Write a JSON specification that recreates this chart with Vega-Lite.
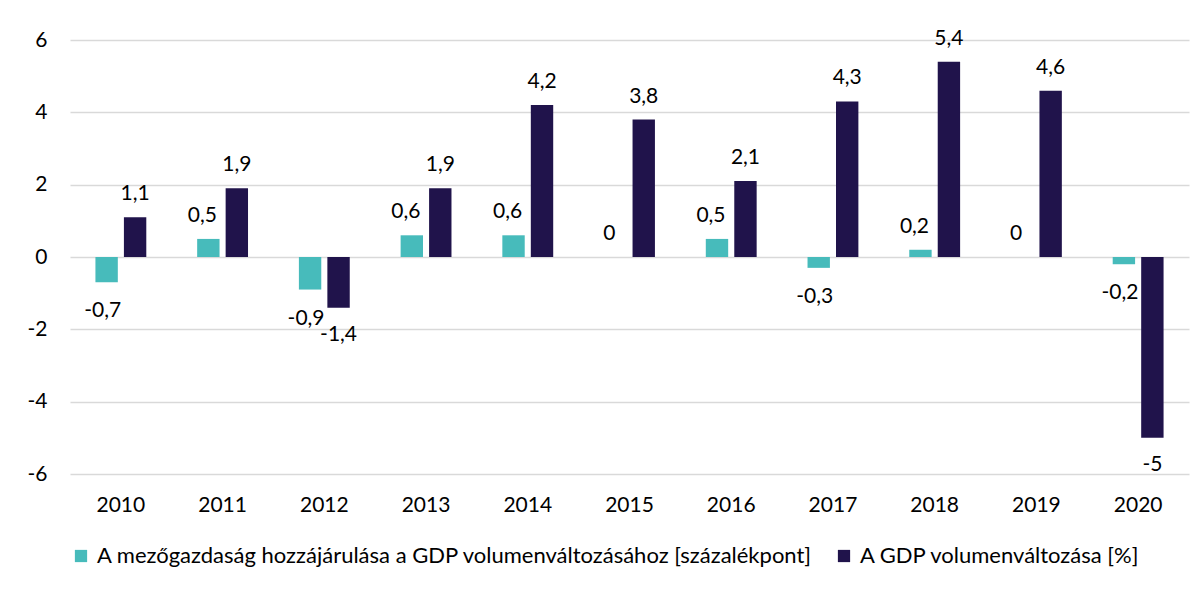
{
  "$schema": "https://vega.github.io/schema/vega-lite/v6.json",
  "width": 1119,
  "height": 434,
  "autosize": {"type": "none"},
  "padding": {"left": 70, "top": 40, "right": 14, "bottom": 116},
  "background": "white",
  "config": {
    "locale": {"number": {"decimal": ",", "thousands": " ", "grouping": [3], "currency": ["", " Ft"], "minus": "-"}},
    "font": "Lato",
    "view": {"stroke": null},
    "text": {"font": "Lato", "fontSize": 21, "color": "#000000"}
  },
  "data": {
    "values": [
      {"year": "2010", "series": "A mezőgazdaság hozzájárulása a GDP volumenváltozásához [százalékpont]", "value": -0.7},
      {"year": "2010", "series": "A GDP volumenváltozása [%]", "value": 1.1},
      {"year": "2011", "series": "A mezőgazdaság hozzájárulása a GDP volumenváltozásához [százalékpont]", "value": 0.5},
      {"year": "2011", "series": "A GDP volumenváltozása [%]", "value": 1.9},
      {"year": "2012", "series": "A mezőgazdaság hozzájárulása a GDP volumenváltozásához [százalékpont]", "value": -0.9},
      {"year": "2012", "series": "A GDP volumenváltozása [%]", "value": -1.4},
      {"year": "2013", "series": "A mezőgazdaság hozzájárulása a GDP volumenváltozásához [százalékpont]", "value": 0.6},
      {"year": "2013", "series": "A GDP volumenváltozása [%]", "value": 1.9},
      {"year": "2014", "series": "A mezőgazdaság hozzájárulása a GDP volumenváltozásához [százalékpont]", "value": 0.6},
      {"year": "2014", "series": "A GDP volumenváltozása [%]", "value": 4.2},
      {"year": "2015", "series": "A mezőgazdaság hozzájárulása a GDP volumenváltozásához [százalékpont]", "value": 0},
      {"year": "2015", "series": "A GDP volumenváltozása [%]", "value": 3.8},
      {"year": "2016", "series": "A mezőgazdaság hozzájárulása a GDP volumenváltozásához [százalékpont]", "value": 0.5},
      {"year": "2016", "series": "A GDP volumenváltozása [%]", "value": 2.1},
      {"year": "2017", "series": "A mezőgazdaság hozzájárulása a GDP volumenváltozásához [százalékpont]", "value": -0.3},
      {"year": "2017", "series": "A GDP volumenváltozása [%]", "value": 4.3},
      {"year": "2018", "series": "A mezőgazdaság hozzájárulása a GDP volumenváltozásához [százalékpont]", "value": 0.2},
      {"year": "2018", "series": "A GDP volumenváltozása [%]", "value": 5.4},
      {"year": "2019", "series": "A mezőgazdaság hozzájárulása a GDP volumenváltozásához [százalékpont]", "value": 0},
      {"year": "2019", "series": "A GDP volumenváltozása [%]", "value": 4.6},
      {"year": "2020", "series": "A mezőgazdaság hozzájárulása a GDP volumenváltozásához [százalékpont]", "value": -0.2},
      {"year": "2020", "series": "A GDP volumenváltozása [%]", "value": -5}
    ]
  },
  "encoding": {
    "x": {
      "field": "year", "type": "nominal", "title": null,
      "scale": {"paddingInner": 0.5, "paddingOuter": 0.25},
      "axis": {"labelAngle": 0, "labelFont": "Lato", "labelFontSize": 21, "labelColor": "#000000", "ticks": false, "domain": false, "labelPadding": 20, "grid": false}
    },
    "xOffset": {
      "field": "series", "type": "nominal",
      "scale": {"domain": ["A mezőgazdaság hozzájárulása a GDP volumenváltozásához [százalékpont]", "A GDP volumenváltozása [%]"], "paddingInner": 0.214, "paddingOuter": 0}
    },
    "y": {
      "field": "value", "type": "quantitative", "title": null,
      "scale": {"domain": [-6, 6], "nice": false, "zero": false},
      "axis": {"values": [-6, -4, -2, 0, 2, 4, 6], "format": "~g", "labelFont": "Lato", "labelFontSize": 21, "labelColor": "#000000", "ticks": false, "domain": false, "labelPadding": 23, "grid": true, "gridColor": "#d9d9d9", "gridWidth": 1.5}
    }
  },
  "layer": [
    {
      "mark": {"type": "bar"},
      "encoding": {
        "color": {
          "field": "series", "type": "nominal", "title": null,
          "scale": {"domain": ["A mezőgazdaság hozzájárulása a GDP volumenváltozásához [százalékpont]", "A GDP volumenváltozása [%]"], "range": ["#47bbbb", "#20134b"]},
          "legend": {"orient": "bottom", "direction": "horizontal", "symbolType": "square", "symbolSize": 150, "symbolStrokeWidth": 0, "labelFont": "Lato", "labelFontSize": 22, "labelColor": "#000000", "labelLimit": 0, "columnPadding": 20, "labelOffset": 5, "offset": 30}
        }
      }
    },
    {
      "transform": [{"filter": "datum.value >= 0 && datum.series != 'A GDP volumenváltozása [%]'"}],
      "mark": {"type": "text", "baseline": "alphabetic", "dy": -17, "dx": -6},
      "encoding": {"text": {"field": "value", "type": "quantitative", "format": ".1~f"}}
    },
    {
      "transform": [{"filter": "datum.value < 0 && datum.series != 'A GDP volumenváltozása [%]'"}],
      "mark": {"type": "text", "baseline": "alphabetic", "dy": 35, "dx": -4},
      "encoding": {"text": {"field": "value", "type": "quantitative", "format": ".1~f"}}
    },
    {
      "transform": [{"filter": "datum.value >= 0 && datum.series == 'A GDP volumenváltozása [%]'"}],
      "mark": {"type": "text", "baseline": "alphabetic", "dy": -17},
      "encoding": {"text": {"field": "value", "type": "quantitative", "format": ".1~f"}}
    },
    {
      "transform": [{"filter": "datum.value < 0 && datum.series == 'A GDP volumenváltozása [%]'"}],
      "mark": {"type": "text", "baseline": "alphabetic", "dy": 33},
      "encoding": {"text": {"field": "value", "type": "quantitative", "format": ".1~f"}}
    }
  ]
}
